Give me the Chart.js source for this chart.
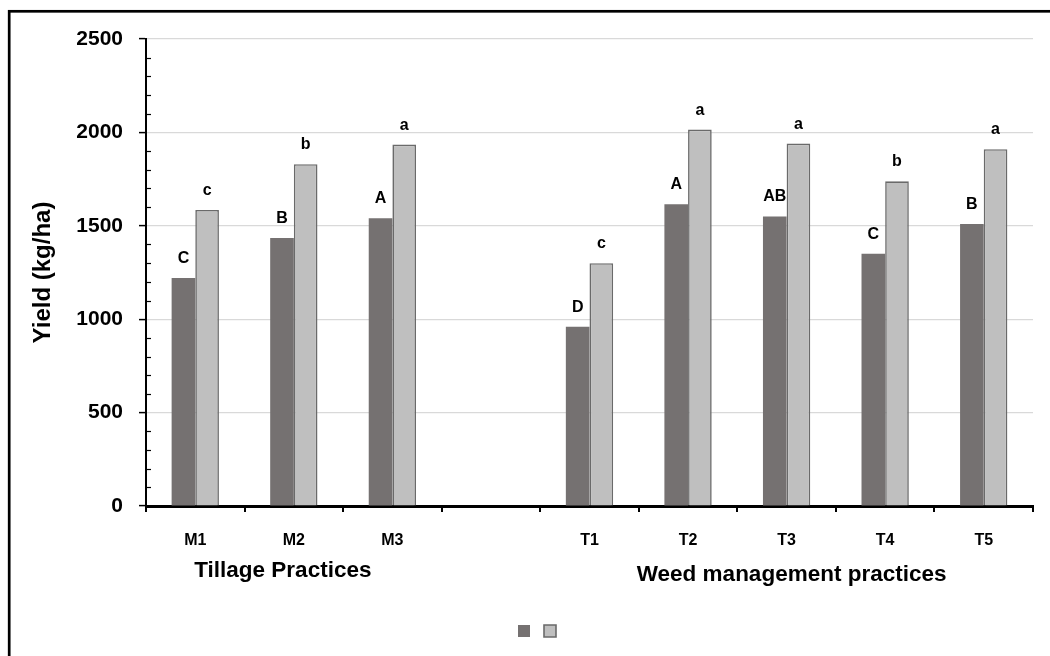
<!DOCTYPE html>
<html>
<head>
<meta charset="utf-8">
<script src="https://cdn.jsdelivr.net/npm/chart.js@4.4.1/dist/chart.umd.min.js"></script>
<style>
  html, body { margin: 0; padding: 0; background: #fff; }
  #wrap { position: relative; width: 1050px; height: 656px; overflow: hidden; }
  canvas { display: block; }
</style>
</head>
<body>
<div id="wrap"><canvas id="c" width="1050" height="656"></canvas></div>
<script>
// ---- data ----
const categories = ['M1', 'M2', 'M3', '', 'T1', 'T2', 'T3', 'T4', 'T5'];
const seriesDark  = [1220, 1435, 1540, null, 960, 1615, 1550, 1350, 1510];
const seriesLight = [1585, 1830, 1935, null, 1300, 2015, 1940, 1738, 1910];
const lettersDark  = ['C', 'B', 'A', '', 'D', 'A', 'AB', 'C', 'B'];
const lettersLight = ['c', 'b', 'a', '', 'c', 'a', 'a', 'b', 'a'];
const yTicks = [0, 500, 1000, 1500, 2000, 2500];
const groupLabels = ['Tillage Practices', 'Weed management practices'];
const groupRanges = [[0, 2], [4, 8]];

const FONT = "'Liberation Sans', Arial, Helvetica, sans-serif";
Chart.defaults.font.family = FONT;
Chart.defaults.color = '#000';

const framePlugin = {
  id: 'frame',
  beforeDraw(chart) {
    const ctx = chart.ctx;
    ctx.save();
    ctx.strokeStyle = '#000';
    ctx.lineWidth = 2.7;
    ctx.strokeRect(9.2, 11.3, 1100, 700);
    ctx.restore();
  }
};

const minorTicksPlugin = {
  id: 'minorTicks',
  afterDraw(chart) {
    const y = chart.scales.y;
    const ctx = chart.ctx;
    ctx.save();
    ctx.strokeStyle = '#000';
    ctx.lineWidth = 1.2;
    for (let v = 100; v < 2500; v += 100) {
      if (v % 500 === 0) continue;
      const py = Math.round(y.getPixelForValue(v)) + 0.5;
      ctx.beginPath();
      ctx.moveTo(y.right, py);
      ctx.lineTo(y.right + 5, py);
      ctx.stroke();
    }
    ctx.restore();
  }
};

const letterPlugin = {
  id: 'letters',
  afterDatasetsDraw(chart) {
    const ctx = chart.ctx;
    ctx.save();
    ctx.font = 'bold 16px ' + FONT;
    ctx.fillStyle = '#000';
    ctx.textAlign = 'center';
    ctx.textBaseline = 'alphabetic';
    const sets = [lettersDark, lettersLight];
    chart.data.datasets.forEach((ds, di) => {
      const meta = chart.getDatasetMeta(di);
      meta.data.forEach((el, i) => {
        const t = sets[di][i];
        if (!t || ds.data[i] == null) return;
        ctx.fillText(t, el.x, el.y - 15);
      });
    });
    ctx.restore();
  }
};

const groupLabelPlugin = {
  id: 'groupLabels',
  afterDraw(chart) {
    const x = chart.scales.x;
    const ctx = chart.ctx;
    ctx.save();
    ctx.font = 'bold 22.5px ' + FONT;
    ctx.fillStyle = '#000';
    ctx.textAlign = 'center';
    ctx.textBaseline = 'alphabetic';
    const nudgeX = [-11, 5];
    const baseY = [577, 581];
    groupLabels.forEach((g, i) => {
      const [a, b] = groupRanges[i];
      const cx = (x.getPixelForValue(a) + x.getPixelForValue(b)) / 2 + nudgeX[i];
      ctx.fillText(g, cx, baseY[i]);
    });
    ctx.restore();
  }
};

const legendShift = {
  id: 'legendShift',
  afterLayout(chart) {
    const l = chart.legend;
    if (l) { l.left += 23.5; l.right += 23.5; }
  }
};

new Chart(document.getElementById('c'), {
  type: 'bar',
  data: {
    labels: categories,
    datasets: [
      {
        label: '',
        data: seriesDark,
        backgroundColor: '#757171',
        borderColor: '#757171',
        borderWidth: 0,
        categoryPercentage: 0.48,
        barPercentage: 1.0
      },
      {
        label: '',
        data: seriesLight,
        backgroundColor: '#bfbfbf',
        borderColor: '#6a6a6a',
        borderWidth: 1.6,
        categoryPercentage: 0.48,
        barPercentage: 1.0
      }
    ]
  },
  options: {
    responsive: false,
    animation: false,
    devicePixelRatio: 1,
    layout: { padding: { left: 0, right: 17, top: 39, bottom: 9 } },
    plugins: {
      tooltip: { enabled: false },
      legend: {
        display: true,
        position: 'bottom',
        labels: {
          boxWidth: 12,
          boxHeight: 12,
          padding: 8,
          font: { size: 12 },
          generateLabels(chart) {
            return chart.data.datasets.map((ds, i) => ({
              text: '',
              fillStyle: ds.backgroundColor,
              strokeStyle: ds.borderColor,
              lineWidth: i === 1 ? 1.6 : 0,
              hidden: false,
              datasetIndex: i
            }));
          }
        }
      }
    },
    scales: {
      x: {
        type: 'category',
        offset: true,
        afterFit(s) { s.height = 111; },
        grid: {
          display: true,
          offset: true,
          drawOnChartArea: false,
          drawTicks: true,
          tickLength: 6,
          color: '#000',
          tickColor: '#000',
          lineWidth: 2
        },
        border: { display: true, color: '#000', width: 3 },
        ticks: {
          padding: 19,
          maxRotation: 0,
          autoSkip: false,
          font: { size: 16, weight: 'bold' },
          color: '#000'
        }
      },
      y: {
        min: 0,
        max: 2500,
        afterFit(s) { s.width = 146; },
        afterBuildTicks(s) { s.ticks = yTicks.map(v => ({ value: v })); },
        title: {
          display: true,
          text: 'Yield (kg/ha)',
          font: { size: 24, weight: 'bold' },
          color: '#000',
          padding: { top: 29, bottom: 0 }
        },
        grid: {
          color: '#d9d9d9',
          lineWidth: 1.2,
          drawTicks: true,
          tickLength: 7,
          tickColor: '#000',
          tickWidth: 1.5
        },
        border: { display: true, color: '#000', width: 2 },
        ticks: {
          padding: 16,
          font: { size: 21, weight: 'bold' },
          color: '#000',
          callback: (v) => String(v)
        }
      }
    }
  },
  plugins: [framePlugin, minorTicksPlugin, letterPlugin, groupLabelPlugin, legendShift]
});
</script>
</body>
</html>
